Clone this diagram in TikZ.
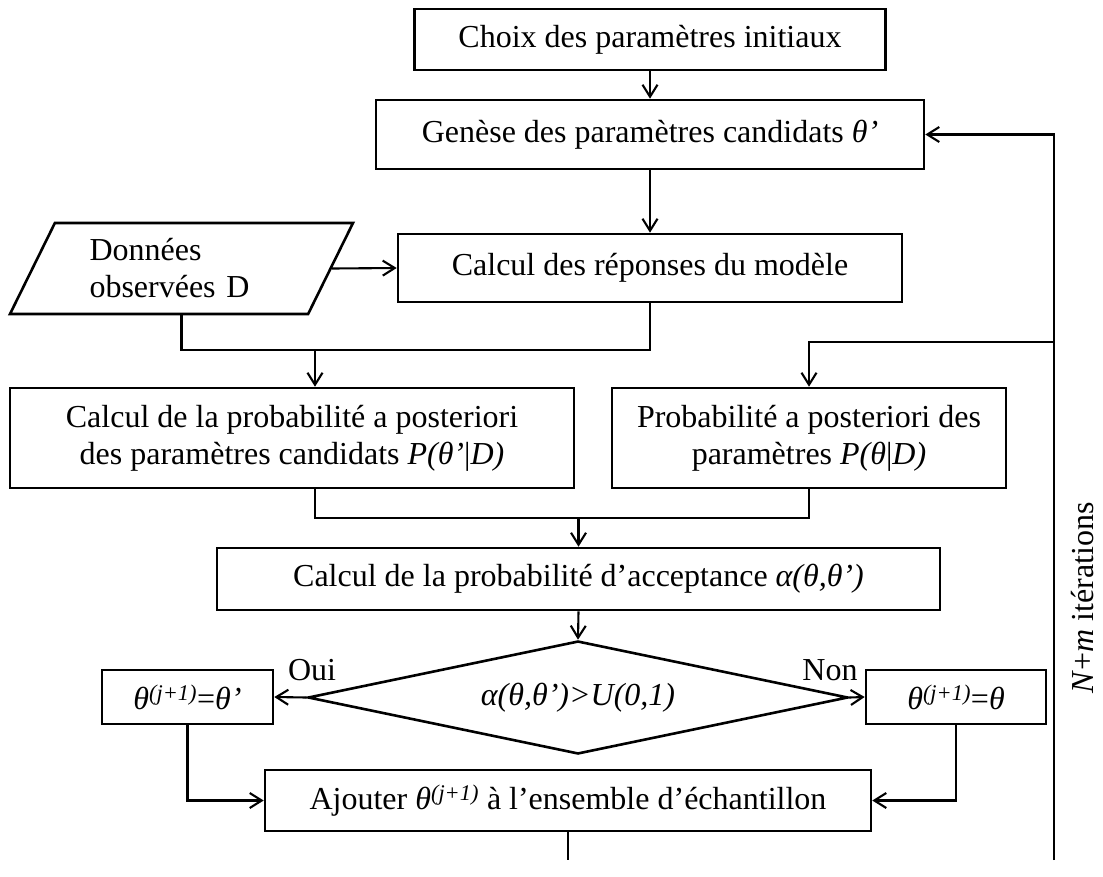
\documentclass[tikz,border=0pt]{standalone}
\usepackage{fontspec}
\setmainfont{Liberation Serif}
\usetikzlibrary{shapes.geometric, arrows.meta, positioning, calc}
\tikzset{
    box/.style={
        rectangle, draw=black, line width=2.6pt,
        inner sep=0pt, align=center
    },
    datain/.style={
        trapezium, trapezium left angle=53, trapezium right angle=127,
        trapezium stretches body, draw=black, line width=2.6pt,
        inner sep=0pt, align=left, text width=184
    },
    decision/.style={
        diamond, aspect=4.7, draw=black, line width=2.6pt,
        inner sep=0pt, align=center
    },
    arrow/.style={-{Straight Barb[length=12pt, width=15pt]}, line width=2.1pt},
    line/.style={line width=2.1pt},
    anno/.style={inner sep=0pt}
}

\begin{document}
\begin{tikzpicture}[x=1pt, y=-1pt, font=\fontsize{32}{37}\selectfont]
    \useasboundingbox (0,0) rectangle (1103,876);

    % Top: initial choice and candidate generation
    \node[box, minimum width=471, minimum height=61] (choix) at (650,39.5) {Choix des paramètres initiaux};
    \node[box, minimum width=548, minimum height=69] (genese) at (650,134.5) {Genèse des paramètres candidats \textit{θ’}};

    % Model responses and data
    \node[box, minimum width=504, minimum height=68] (reponses) at (650,268) {Calcul des réponses du modèle};
    \node[datain, minimum width=343, minimum height=91] (donnees) at (181.5,268.5) {Données\\observées D};

    % Row: posterior probabilities
    \node[box, minimum width=564, minimum height=100] (postcand) at (292,438) {Calcul de la probabilité a posteriori\\des paramètres candidats \textit{P(θ’}|\textit{D)}};
    \node[box, minimum width=394, minimum height=100] (postparam) at (809,438) {Probabilité a posteriori des\\paramètres \textit{P(θ}|\textit{D)}};

    % Acceptance
    \node[box, minimum width=723, minimum height=62] (accept) at (578.5,579) {Calcul de la probabilité d’acceptance \textit{α(θ,θ’)}};
    \node[decision, minimum width=540, minimum height=113] (test) at (578,697.5) {\textit{α(θ,θ’)>U(0,1)}};
    \node[box, minimum width=171, minimum height=54] (thetanew) at (187.5,697) {\textit{θ}\textsuperscript{\textit{(j+1)}}=\textit{θ’}};
    \node[box, minimum width=180, minimum height=54] (thetaold) at (956,697) {\textit{θ}\textsuperscript{\textit{(j+1)}}=\textit{θ}};
    \node[box, minimum width=606, minimum height=61] (ajout) at (568,800.5) {Ajouter \textit{θ}\textsuperscript{\textit{(j+1)}} à l’ensemble d’échantillon};

    % Labels
    \node[anno] (oui) at (312,670) {Oui};
    \node[anno] (non) at (830,670) {Non};
    \node[anno, rotate=90] (iter) at (1083,598) {\textit{N}+\textit{m} itérations};

    % Arrows
    \draw[arrow] (choix) -- (genese);
    \draw[arrow] (genese) -- (reponses);
    \draw[arrow] (donnees.east) -- (reponses.west);

    % Merge towards P(theta'|D)
    \coordinate (m1) at (315,350);
    \draw[line] (donnees.south) |- (m1) -| (reponses.south);
    \draw[arrow] (m1) -- (m1 |- postcand.north);

    % Merge towards acceptance
    \coordinate (m2) at (578.5,518);
    \draw[line] (m1 |- postcand.south) |- (m2) -| (postparam.south);
    \draw[arrow] (m2) -- (accept.north);
    \draw[arrow] (accept.south) -- (test.north);

    % Decision
    \draw[arrow] (test.west) -- (thetanew.east);
    \draw[arrow] (test.east) -- (thetaold.west);
    \draw[arrow] (thetanew.south) |- (ajout.west);
    \draw[arrow] (thetaold.south) |- (ajout.east);

    % Loop back
    \coordinate (fb) at (1054,860);
    \coordinate (fb2) at (1054,342);
    \coordinate (fin) at (568,860);
    \draw[line] (ajout.south) -- (fin);
    \draw[arrow] (fb) |- (genese.east);
    \draw[arrow] (fb2) -| (postparam.north);

\end{tikzpicture}
\end{document}
